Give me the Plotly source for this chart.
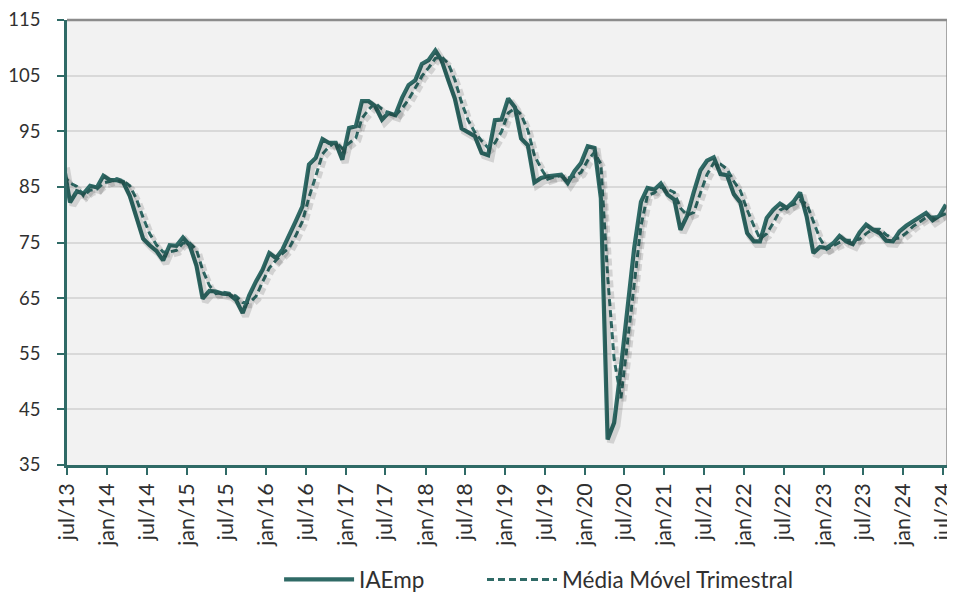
import pandas as pd
import plotly.graph_objects as go

# Monthly index values, jun/13 (clipped at left edge) .. jul/24
iaemp = [89.0,
         82.2, 84.2, 83.8, 85.2, 84.9, 87.0, 86.2, 86.2, 85.9, 83.4, 79.5, 75.7,
         74.5, 73.5, 71.8, 74.5, 74.4, 75.9, 74.5, 70.8, 64.9, 66.3, 66.2, 65.8,
         65.7, 64.7, 62.3, 65.5, 68.0, 70.1, 73.1, 72.2, 73.7, 76.1, 78.8, 81.5,
         89.0, 90.2, 93.6, 92.9, 92.9, 89.9, 95.6, 95.9, 100.4, 100.4, 99.5, 97.1,
         98.3, 97.9, 101.0, 103.3, 104.2, 107.1, 107.8, 109.5, 107.8, 104.2, 100.9, 95.5,
         94.7, 94.1, 91.1, 90.7, 97.0, 97.1, 100.9, 99.3, 93.7, 92.5, 85.8, 86.6,
         86.9, 87.0, 87.2, 85.7, 87.8, 89.3, 92.3, 92.0, 83.0, 39.6, 42.6, 52.5,
         63.5, 74.0, 82.3, 84.8, 84.5, 85.6, 83.6, 82.7, 77.3, 79.8, 84.0, 88.0,
         89.7, 90.3, 87.3, 87.1, 83.7, 82.2, 76.7, 75.2, 75.2, 79.4, 80.9, 82.0,
         81.2, 82.3, 84.0, 79.7, 73.1, 74.2, 74.0, 74.9, 76.2, 75.2, 74.7, 76.8,
         78.2, 77.3, 76.7, 75.3, 75.2, 77.0, 78.0, 78.8, 79.4, 80.3, 79.0, 79.8,
         81.8]

media_movel = [87.0,
               85.7, 85.1, 83.4, 84.4, 84.6, 85.7, 86.0, 86.5, 86.1, 85.2, 82.9, 79.5,
               76.6, 74.6, 73.3, 73.3, 73.6, 74.9, 74.9, 73.7, 70.1, 67.3, 65.8, 66.1,
               65.9, 65.4, 64.2, 64.2, 65.3, 67.9, 70.4, 71.8, 73.0, 74.0, 76.2, 78.8,
               83.1, 86.9, 90.9, 92.2, 93.1, 91.9, 92.8, 93.8, 97.3, 98.9, 100.1, 99.0,
               98.3, 97.8, 99.1, 100.7, 102.8, 104.9, 106.4, 108.1, 108.4, 107.2, 104.3, 100.2,
               97.0, 94.8, 93.3, 92.0, 92.9, 94.9, 98.3, 99.1, 98.0, 95.2, 90.7, 88.3,
               86.4, 86.8, 87.0, 86.6, 86.9, 87.6, 89.8, 91.2, 89.1, 69.0, 54.0, 47.0,
               57.0, 68.0, 78.0, 83.5, 83.9, 85.0, 84.6, 84.0, 81.2, 79.9, 80.4, 83.9,
               87.2, 89.3, 89.1, 88.2, 86.0, 84.3, 80.9, 78.0, 75.7, 76.6, 78.5, 80.8,
               81.4, 81.8, 82.5, 82.0, 78.9, 75.7, 73.8, 74.4, 75.0, 75.4, 75.4, 75.6,
               76.6, 77.4, 77.4, 76.4, 75.7, 75.8, 76.7, 77.9, 78.7, 79.5, 79.6, 79.7,
               80.2]

tick_dates = pd.date_range("2013-07-01", "2024-07-01", freq="6MS")
tick_labels = [("jan" if d.month == 1 else "jul") + "/" + d.strftime("%y") for d in tick_dates]
y_ticks = list(range(35, 116, 10))

dates = pd.date_range("2013-06-01", periods=len(iaemp), freq="MS") + pd.Timedelta(days=14)

teal = "#2f6a66"
shadow = "rgba(0,0,0,0.13)"
font = "Lato, 'Open Sans', sans-serif"
txt = "#303030"

x_range = [pd.Timestamp("2013-07-01"), pd.Timestamp("2024-07-20")]
shift = pd.Timedelta(days=13)
dy = 0.55

fig = go.Figure()
fig.add_trace(go.Scatter(x=dates, y=media_movel, mode="lines", xaxis="x2", yaxis="y2",
                         line=dict(color=shadow, width=5, dash="7px,4px"),
                         showlegend=False, hoverinfo="skip"))
fig.add_trace(go.Scatter(x=dates, y=iaemp, mode="lines", xaxis="x2", yaxis="y2",
                         line=dict(color=shadow, width=7),
                         showlegend=False, hoverinfo="skip"))
fig.add_trace(go.Scatter(x=dates, y=iaemp, mode="lines", name="IAEmp", legend="legend",
                         line=dict(color=teal, width=4.2)))
fig.add_trace(go.Scatter(x=dates, y=media_movel, mode="lines", name="Média Móvel Trimestral",
                         legend="legend2",
                         line=dict(color=teal, width=3, dash="7px,4px")))

leg_common = dict(orientation="h", xanchor="left", y=-0.258, yanchor="middle",
                  font=dict(size=22.5, color=txt), itemwidth=70,
                  bgcolor="rgba(0,0,0,0)")

# the page body adds an 8px margin, so the figure is 947x585
fig.update_layout(
    width=947, height=585,
    margin=dict(l=59, r=8, t=12, b=128, autoexpand=False),
    paper_bgcolor="white",
    plot_bgcolor="#f2f2f2",
    font=dict(family=font, size=18, color=txt),
    showlegend=True,
    legend=dict(x=0.241, **leg_common),
    legend2=dict(x=0.4716, **leg_common),
    xaxis=dict(type="date", range=x_range, tickvals=tick_dates, ticktext=tick_labels,
               tickangle=-90, ticks="outside", ticklen=7, tickwidth=2, tickcolor=teal,
               ticklabelstandoff=0, ticklabeloverflow="allow",
               showline=True, linecolor=teal, linewidth=2.5, showgrid=False,
               zeroline=False, automargin=False, tickfont=dict(size=21.5, color=txt)),
    yaxis=dict(range=[35, 115], tickvals=y_ticks, ticks="outside", ticklen=7, tickwidth=2,
               tickcolor=teal, showline=True, linecolor=teal, linewidth=2.5,
               ticklabelstandoff=13, ticklabeloverflow="allow",
               showgrid=True, gridcolor="#d9d9d9", gridwidth=2, zeroline=False,
               automargin=False, tickfont=dict(size=18.5, color=txt)),
    xaxis2=dict(type="date", overlaying="x", range=[x_range[0] - shift, x_range[1] - shift],
                visible=False, showgrid=False),
    yaxis2=dict(overlaying="y", range=[35 + dy, 115 + dy], visible=False, showgrid=False),
    shapes=[
        dict(type="line", xref="paper", yref="paper", x0=0, x1=1, y0=1, y1=1,
             line=dict(color="#8c8c8c", width=2.5)),
        dict(type="line", xref="paper", yref="paper", x0=1, x1=1, y0=0, y1=1,
             line=dict(color="#8c8c8c", width=1.5)),
    ],
)

fig.write_html("out.html")
